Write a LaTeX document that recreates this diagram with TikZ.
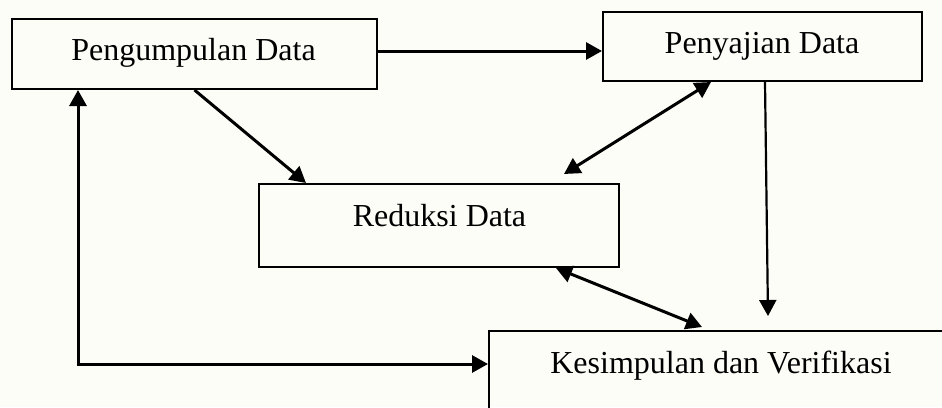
\documentclass[tikz,border=0pt]{standalone}
\usepackage{fontspec}
\setmainfont{Liberation Serif}
\usetikzlibrary{arrows.meta}
\definecolor{bgpaper}{RGB}{253,253,248}
\tikzset{
  x=1pt, y=-1pt,
  boxnode/.style={draw=black, line width=2pt, rectangle, inner sep=0pt, fill=none},
  labeltext/.style={anchor=base, inner sep=0pt, font=\fontsize{32}{37}\selectfont},
  tip/.tip={Triangle[length=16pt,width=17pt]},
  conn/.style={line width=3pt, -tip},
  biconn/.style={line width=3pt, tip-tip},
}
\begin{document}
\begin{tikzpicture}
\clip (0,0) rectangle (942,407);
\fill[bgpaper] (0,0) rectangle (942,407);
% boxes
\node[boxnode, minimum width=365pt, minimum height=70pt] (b1) at (194.5,54) {};
\node[boxnode, minimum width=319pt, minimum height=69pt] (b2) at (762.5,46.5) {};
\node[boxnode, minimum width=360pt, minimum height=83pt] (b3) at (439,225.5) {};
\node[boxnode, minimum width=520pt, minimum height=120pt] (b4) at (749,391) {};
% texts
\node[labeltext] (t1) at (193.5,60) {Pengumpulan Data};
\node[labeltext] (t2) at (762,53) {Penyajian Data};
\node[labeltext] (t3) at (439.5,226) {Reduksi Data};
\node[labeltext] (t4) at (721,373) {Kesimpulan dan Verifikasi};
% connectors
\draw[conn] ([yshift=3pt]b1.east) -- ([yshift=3pt]b1.east -| b2.west);
\draw[conn] (b1.south) -- ([xshift=48pt]b3.north west);
\draw[biconn] ([xshift=109pt]b2.south west) -- ([xshift=306pt,yshift=9pt]b3.north west);
\draw[conn, line width=2.2pt] ([xshift=163pt]b2.south west) -- ([xshift=280pt,yshift=14pt]b4.north west);
\draw[biconn] ([xshift=298pt]b3.south west) -- ([xshift=214pt,yshift=3pt]b4.north west);
\draw[biconn] ([xshift=67pt]b1.south west) |- ([yshift=-34pt]b4.north west);
\end{tikzpicture}
\end{document}
